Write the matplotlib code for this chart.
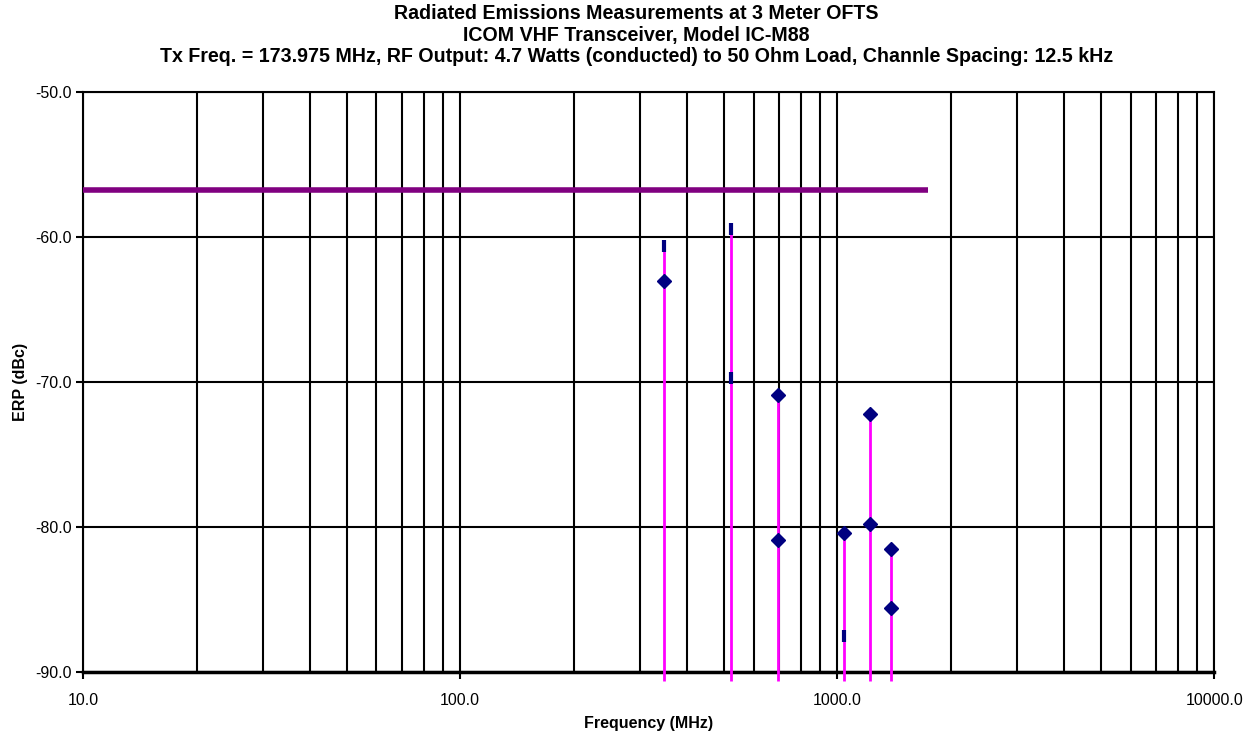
import numpy as np
import matplotlib.pyplot as plt
from matplotlib.ticker import LogLocator, FixedLocator, NullFormatter, FuncFormatter

plt.rcParams['font.family'] = ['Liberation Sans', 'DejaVu Sans']

# Harmonic frequencies (MHz) of the 173.975 MHz carrier
harm_freq = [347.95, 521.9, 695.9, 1043.85, 1217.8, 1391.8]
stem_top = [-60.6, -59.4, -70.9, -80.4, -72.2, -81.5]

# Diamond-marked readings
dia_freq = [347.95, 695.9, 695.9, 1043.85, 1217.8, 1217.8, 1391.8, 1391.8]
dia_erp = [-63.0, -70.9, -80.9, -80.4, -72.2, -79.8, -81.5, -85.6]

# Dash-marked readings
dash_freq = [347.95, 521.9, 521.9, 1043.85]
dash_erp = [-60.6, -59.4, -69.7, -87.5]

# Limit line
limit_freq = [10.0, 1739.75]
limit_erp = [-56.7, -56.7]

fig = plt.figure(figsize=(12.46, 7.32), dpi=100)
ax = fig.add_axes([0.0666, 0.082, 0.908, 0.7917])

ax.set_xscale('log')
ax.set_xlim(10, 10000)
ax.set_ylim(-90, -50)

# grid
ax.xaxis.set_major_locator(FixedLocator([10, 100, 1000, 10000]))
ax.xaxis.set_minor_locator(LogLocator(base=10, subs=np.arange(2, 10)))
ax.xaxis.set_minor_formatter(NullFormatter())
ax.xaxis.set_major_formatter(FuncFormatter(lambda v, p: f"{v:.1f}"))
ax.set_yticks([-90, -80, -70, -60, -50])
ax.yaxis.set_major_formatter(FuncFormatter(lambda v, p: f"{v:.1f}"))
ax.grid(True, which='both', axis='x', color='black', lw=1.5)
ax.grid(True, which='major', axis='y', color='black', lw=1.5)
ax.tick_params(which='minor', length=0)
ax.tick_params(which='major', direction='out', length=5, width=1.5, labelsize=11.5)
ax.tick_params(axis='x', pad=10)
ax.tick_params(axis='y', pad=3)
for s in ax.spines.values():
    s.set_linewidth(1.5)
ax.spines['bottom'].set_linewidth(2.5)

ax.plot(limit_freq, limit_erp, color='#800080', lw=4, solid_capstyle='butt', zorder=3)

ax.vlines(harm_freq, -90.6, stem_top, color='#ff00ff', lw=2, zorder=4, clip_on=False)
ax.plot(dia_freq, dia_erp, ls='none', marker='D', ms=7, color='#000080', zorder=5)
ax.plot(dash_freq, dash_erp, ls='none', marker='|', ms=9, mew=3, color='#000080', zorder=5)

fig.text(0.511, 0.994,
         "Radiated Emissions Measurements at 3 Meter OFTS\n"
         "ICOM VHF Transceiver, Model IC-M88\n"
         "Tx Freq. = 173.975 MHz, RF Output: 4.7 Watts (conducted) to 50 Ohm Load, Channle Spacing: 12.5 kHz",
         ha='center', va='top', fontsize=14.1, fontweight='bold', linespacing=1.17)
ax.set_xlabel("Frequency (MHz)", fontsize=11.5, fontweight='bold', labelpad=6)
ax.set_ylabel("ERP (dBc)", fontsize=11.5, fontweight='bold', labelpad=5)

fig.savefig("out.png", dpi=100)
